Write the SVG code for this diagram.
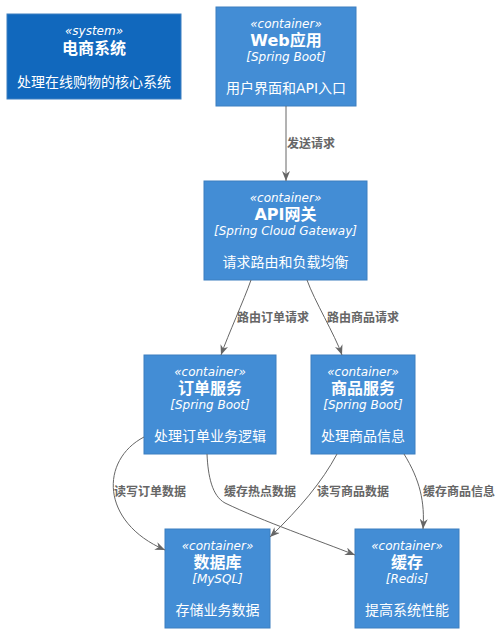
<svg xmlns="http://www.w3.org/2000/svg" width="502" height="633" viewBox="0 0 502 633">
<style>
  text { font-family: "DejaVu Sans", "Noto Sans CJK SC", sans-serif; fill: #FFFFFF; text-anchor: middle; }
  .sys { fill: #1168BD; stroke: #3C7FC0; stroke-width: 1; }
  .ctr { fill: #438DD5; stroke: #3C7FC0; stroke-width: 1; }
  .st { font-size: 12px; font-style: italic; }
  .tt { font-size: 16px; font-weight: bold; }
  .tc { font-size: 12px; font-style: italic; }
  .ds { font-size: 14px; }
  .edge { fill: none; stroke: #666666; stroke-width: 1; }
  .lbl { font-size: 12px; font-weight: bold; fill: #666666; text-anchor: start; }
</style>
<defs>
  <marker id="arr" viewBox="0 0 10 8" refX="10" refY="4" markerWidth="10" markerHeight="8" markerUnits="userSpaceOnUse" orient="auto">
    <path d="M0,0 L10,4 L0,8 L3,4 z" fill="#666666"/>
  </marker>
</defs>

<g id="system">
  <rect class="sys" x="7" y="14" width="174" height="85"/>
  <text class="st" x="94" y="35">«system»</text>
  <text class="tt" x="94" y="54">电商系统</text>
  <text class="ds" x="94" y="87">处理在线购物的核心系统</text>
</g>

<g id="webapp">
  <rect class="ctr" x="216" y="7" width="140" height="99"/>
  <text class="st" x="286" y="28">«container»</text>
  <text class="tt" x="286" y="46">Web应用</text>
  <text class="tc" x="286" y="61">[Spring Boot]</text>
  <text class="ds" x="286" y="93">用户界面和API入口</text>
</g>

<g id="gateway">
  <rect class="ctr" x="204" y="181" width="163" height="99"/>
  <text class="st" x="285.5" y="202">«container»</text>
  <text class="tt" x="285.5" y="220">API网关</text>
  <text class="tc" x="285.5" y="235">[Spring Cloud Gateway]</text>
  <text class="ds" x="285.5" y="267">请求路由和负载均衡</text>
</g>

<g id="order">
  <rect class="ctr" x="144" y="355" width="132" height="99"/>
  <text class="st" x="210" y="376">«container»</text>
  <text class="tt" x="210" y="394">订单服务</text>
  <text class="tc" x="210" y="409">[Spring Boot]</text>
  <text class="ds" x="210" y="441">处理订单业务逻辑</text>
</g>

<g id="product">
  <rect class="ctr" x="311" y="355" width="104" height="99"/>
  <text class="st" x="363" y="376">«container»</text>
  <text class="tt" x="363" y="394">商品服务</text>
  <text class="tc" x="363" y="409">[Spring Boot]</text>
  <text class="ds" x="363" y="441">处理商品信息</text>
</g>

<g id="database">
  <rect class="ctr" x="165" y="529" width="105" height="99"/>
  <text class="st" x="217.5" y="550">«container»</text>
  <text class="tt" x="217.5" y="568">数据库</text>
  <text class="tc" x="217.5" y="583">[MySQL]</text>
  <text class="ds" x="217.5" y="615">存储业务数据</text>
</g>

<g id="cache">
  <rect class="ctr" x="355" y="529" width="104" height="99"/>
  <text class="st" x="407" y="550">«container»</text>
  <text class="tt" x="407" y="568">缓存</text>
  <text class="tc" x="407" y="583">[Redis]</text>
  <text class="ds" x="407" y="615">提高系统性能</text>
</g>

<g id="connectors">
  <path class="edge" d="M286,106 L286,181" marker-end="url(#arr)"/>
  <text class="lbl" x="287" y="148">发送请求</text>

  <path class="edge" d="M251,280 C244,300 228,335 221,355" marker-end="url(#arr)"/>
  <text class="lbl" x="237" y="322">路由订单请求</text>

  <path class="edge" d="M307,280 C314,300 335,335 342,355" marker-end="url(#arr)"/>
  <text class="lbl" x="327" y="322">路由商品请求</text>

  <path class="edge" d="M144,437 C100,460 100,522 165,550" marker-end="url(#arr)"/>
  <text class="lbl" x="114" y="496">读写订单数据</text>

  <path class="edge" d="M207,454 C208,476 212,496 225,503 C262,521 320,541 355,555" marker-end="url(#arr)"/>
  <text class="lbl" x="224" y="496">缓存热点数据</text>

  <path class="edge" d="M337,454 C322,482 300,508 270,537" marker-end="url(#arr)"/>
  <text class="lbl" x="317" y="496">读写商品数据</text>

  <path class="edge" d="M404,454 C420,480 425,502 423,529" marker-end="url(#arr)"/>
  <text class="lbl" x="423" y="496">缓存商品信息</text>
</g>
</svg>
